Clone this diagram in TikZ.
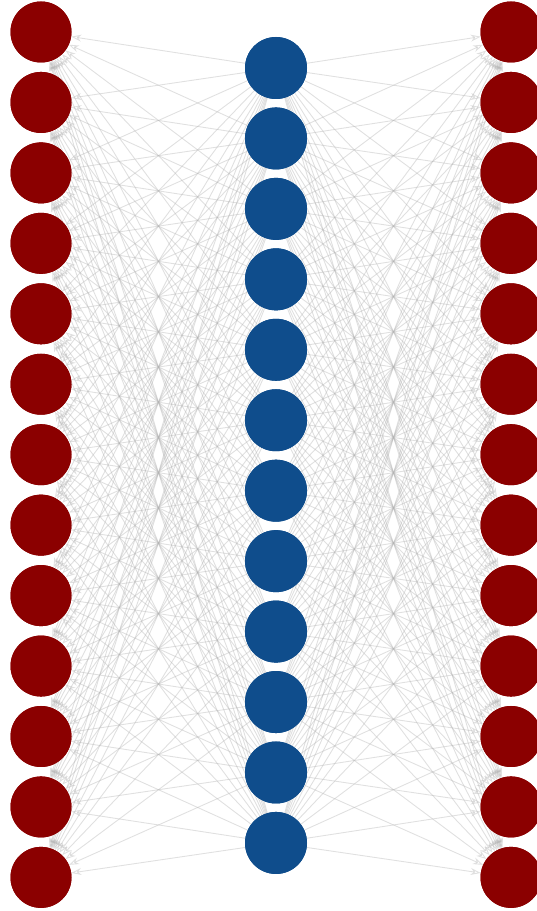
\documentclass[tikz,border=0pt]{standalone}
\usetikzlibrary{arrows.meta}
\definecolor{outred}{HTML}{8B0000}
\definecolor{midblue}{HTML}{0F4D8C}
\tikzset{
  outnode/.style={circle,fill=outred,draw=none,minimum size=61pt,inner sep=0pt},
  midnode/.style={circle,fill=midblue,draw=none,minimum size=62pt,inner sep=0pt},
  link/.style={draw=black!30,line width=0.9pt,opacity=0.4,-{Stealth[length=10pt,width=7pt,open]}}
}
\begin{document}
\begin{tikzpicture}[x=1pt,y=1pt]
\useasboundingbox (0,0) rectangle (537,911);
\foreach \i in {1,...,13} {
  \path (41,{911-32-(\i-1)*70.45}) node[outnode] (L\i) {};
  \path (511,{911-32-(\i-1)*70.45}) node[outnode] (R\i) {};
}
\foreach \i in {1,...,12} {
  \path (276,{911-68-(\i-1)*70.45}) node[midnode] (M\i) {};
}
\foreach \i in {1,...,12} {
  \foreach \j in {1,...,13} {
    \draw[link] (M\i) -- (L\j);
    \draw[link] (M\i) -- (R\j);
  }
}
\foreach \i in {1,...,13} {
  \path (41,{911-32-(\i-1)*70.45}) node[outnode] {};
  \path (511,{911-32-(\i-1)*70.45}) node[outnode] {};
}
\foreach \i in {1,...,12} {
  \path (276,{911-68-(\i-1)*70.45}) node[midnode] {};
}
\end{tikzpicture}
\end{document}
